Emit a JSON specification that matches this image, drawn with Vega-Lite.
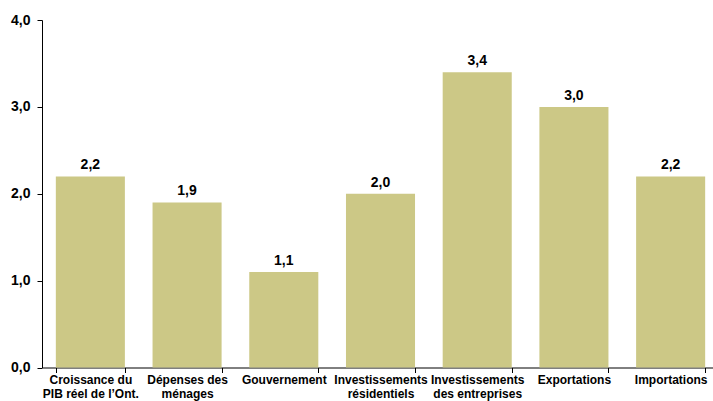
{
  "$schema": "https://vega.github.io/schema/vega-lite/v6.json",
  "width": 677,
  "height": 347.5,
  "autosize": {"type": "none"},
  "padding": {"left": 42, "top": 20, "right": 0, "bottom": 34},
  "config": {
    "font": "Liberation Sans",
    "view": {"stroke": null},
    "locale": {"number": {"decimal": ",", "thousands": " ", "grouping": [3], "currency": ["", " €"]}}
  },
  "data": {
    "values": [
      {"cat": "Croissance du|PIB réel de l’Ont.", "value": 2.2},
      {"cat": "Dépenses des|ménages", "value": 1.9},
      {"cat": "Gouvernement", "value": 1.1},
      {"cat": "Investissements|résidentiels", "value": 2.0},
      {"cat": "Investissements|des entreprises", "value": 3.4},
      {"cat": "Exportations", "value": 3.0},
      {"cat": "Importations", "value": 2.2}
    ]
  },
  "encoding": {
    "x": {
      "field": "cat", "type": "nominal", "sort": null,
      "scale": {"paddingInner": 0.286, "paddingOuter": 0.143},
      "axis": {
        "title": null, "labelAngle": 0, "tickBand": "extent",
        "labelExpr": "split(datum.label, '|')",
        "labelFont": "Liberation Sans", "labelFontSize": 12, "labelFontWeight": "bold",
        "labelColor": "#000", "labelPadding": 2, "labelLineHeight": 14,
        "domainColor": "#000", "tickColor": "#000", "tickSize": 5, "labelBaseline": "top",
        "labelLimit": 200
      }
    },
    "y": {
      "field": "value", "type": "quantitative",
      "scale": {"domain": [0, 4], "nice": false},
      "axis": {
        "title": null, "values": [0, 1, 2, 3, 4], "format": ".1f", "grid": false,
        "labelFont": "Liberation Sans", "labelFontSize": 14, "labelFontWeight": "bold",
        "labelColor": "#000", "domainColor": "#000", "tickColor": "#000", "tickSize": 5,
        "labelPadding": 7
      }
    }
  },
  "layer": [
    {"mark": {"type": "bar", "color": "#CCC886"}},
    {
      "mark": {"type": "text", "dy": -11, "fontSize": 14, "fontWeight": "bold", "color": "#000", "font": "Liberation Sans"},
      "encoding": {"text": {"field": "value", "type": "quantitative", "format": ".1f"}}
    }
  ]
}
